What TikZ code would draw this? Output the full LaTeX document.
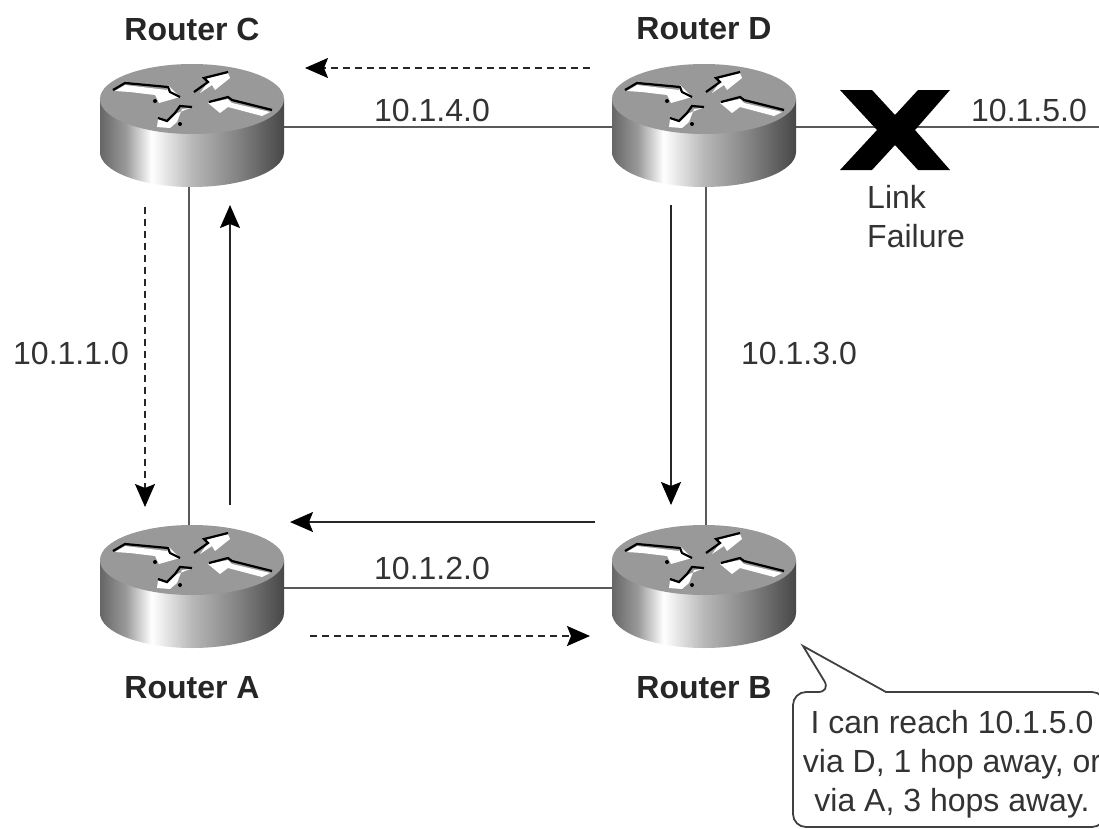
\documentclass[tikz,border=0pt]{standalone}
\usepackage{fontspec}
\setmainfont{Liberation Sans}
\usetikzlibrary{matrix,arrows.meta}

\pgfdeclarehorizontalshading{routerside}{100bp}{
  color(0bp)=(black!60);
  color(25bp)=(black!60);
  color(32bp)=(black!40);
  color(39bp)=(white);
  color(50bp)=(black!28);
  color(62bp)=(black!48);
  color(75bp)=(black!72);
  color(100bp)=(black!72)}

\begin{document}
\begin{tikzpicture}[
x=1pt,y=-1pt,
net/.style={
  matrix of nodes,
  ampersand replacement=\&,
  inner sep=0,
  nodes={
    minimum width=184pt,
    minimum height=120pt,
    inner sep=0
    },
  nodes in empty cells,
  column sep = 328pt,
  row sep = 341pt
  },
wire/.style={draw=black!65,line width=2.2pt},
flow/.style={draw=black!85,line width=1.7pt,-{Stealth[length=23pt,width=20pt,inset=4pt,color=black]}},
flowdash/.style={flow,dash pattern=on 7pt off 5pt},
routername/.style={font=\fontsize{32}{35}\bfseries\selectfont,text=black!85},
netlabel/.style={font=\fontsize{32}{35}\selectfont,text=black!80},
notetext/.style={font=\fontsize{32}{39}\selectfont,text=black!80,align=center},
routerpic/.pic={
  \begin{scope}[shift={(0,-28)}]
  \shade[shading=routerside] (-92,0) -- (-92,53) arc[start angle=180,end angle=0,x radius=92,y radius=35] -- (92,0) -- cycle;
  \fill[black!40] (0,0) ellipse[x radius=92,y radius=35];
  \fill[white] (-77,-8) -- (-67,-14) -- (-25,-9) -- (-24,-14) -- (-12,-2) -- (-33,4) -- (-37,-4) -- (-62,-7) -- cycle;
  \draw[black,line width=2.2pt] (-79,-9) -- (-67,-16) -- (-24,-12) -- (-22,-7) -- (-12,-2);
  \fill[white] (8,-6) -- (20,-14) -- (23,-9) -- (38,-21) -- (36,-26) -- (13,-20) -- (16,-17) -- cycle;
  \draw[black,line width=2.2pt] (2,-7) -- (16,-17) -- (12,-21) -- (36,-27);
  \fill[white] (16,4) -- (36,0) -- (40,4) -- (78,13) -- (70,17) -- (36,8) -- (28,14) -- cycle;
  \draw[black,line width=2.2pt] (17,3) -- (36,-2) -- (40,1) -- (80,11);
  \fill[white] (-2,9) -- (-10,10) -- (-15,23) -- (-22,29) -- (-35,28) -- (-34,20) -- (-25,23) -- (-17,15) -- cycle;
  \draw[black,line width=2.2pt] (0,8) -- (-12,7) -- (-17,14) -- (-25,22) -- (-34,19);
  \fill[black] (-37,2) circle[radius=2] (-12,25) circle[radius=2];
  \end{scope}
  }
]
\clip (0,0) rectangle (1099,828);
\fill[white] (0,0) rectangle (1099,828);

\matrix [net] (mat) at (448,357.5)
{
	\& \\
	\& \\
};

\foreach \name/\x/\y in {linkend/1099/127,
	dcs/590/68,dce/305/68,
	cas/145/207,cae/145/507,
	acs/230/505,ace/230/205,
	dbs/671/205,dbe/671/505,
	bas/595/522,bae/290/522,
	abs/310/636,abe/590/636}
	\coordinate (\name) at (\x,\y);

% links
\draw[wire] (mat-1-1.east) -- (mat-1-2.west);
\draw[wire] (mat-2-1.east) -- (mat-2-2.west);
\draw[wire] ([xshift=-3pt]mat-1-1.south) -- ([xshift=-3pt]mat-2-1.north);
\draw[wire] ([xshift=2pt]mat-1-2.south) -- ([xshift=2pt]mat-2-2.north);
\draw[wire] (mat-1-2.east) -- (linkend);

\foreach \cell in {1-1,1-2,2-1,2-2}
	\pic at (mat-\cell) {routerpic};

% updates
\draw[flowdash] (dcs) -- (dce);
\draw[flowdash] (cas) -- (cae);
\draw[flow] (acs) -- (ace);
\draw[flow] (dbs) -- (dbe);
\draw[flow] (bas) -- (bae);
\draw[flowdash] (abs) -- (abe);

\fill[black] (840,90) -- (872,90) -- (895,115) -- (918,90) -- (950,90) -- (915,130) -- (950,170) -- (918,170) -- (895,145) -- (872,170) -- (840,170) -- (877,130) -- cycle;

\node[routername] (namec) at (192,29) {Router C};
\node[routername] (named) at (704,29) {Router D};
\node[routername] (namea) at (192,688) {Router A};
\node[routername] (nameb) at (704,688) {Router B};

\node[netlabel] (net1) at (71,353) {10.1.1.0};
\node[netlabel] (net2) at (432,568) {10.1.2.0};
\node[netlabel] (net3) at (799,353) {10.1.3.0};
\node[netlabel] (net4) at (432,110) {10.1.4.0};
\node[netlabel] (net5) at (1029,110) {10.1.5.0};
\node[netlabel,align=left,font=\fontsize{32}{39}\selectfont,anchor=north west,inner sep=0] (fail) at (867,185) {Link\\Failure};

\draw[draw=black!75,line width=1.8pt,fill=white,rounded corners=13pt] (886,692) -- (1105,692) -- (1105,827) -- (793,827) -- (793,692) -- (831,692) [sharp corners] -- (803,646) -- cycle;
\node[notetext] (note) at (952,764) {I can reach 10.1.5.0\\via D, 1 hop away, or\\via A, 3 hops away.};

\end{tikzpicture}
\end{document}
